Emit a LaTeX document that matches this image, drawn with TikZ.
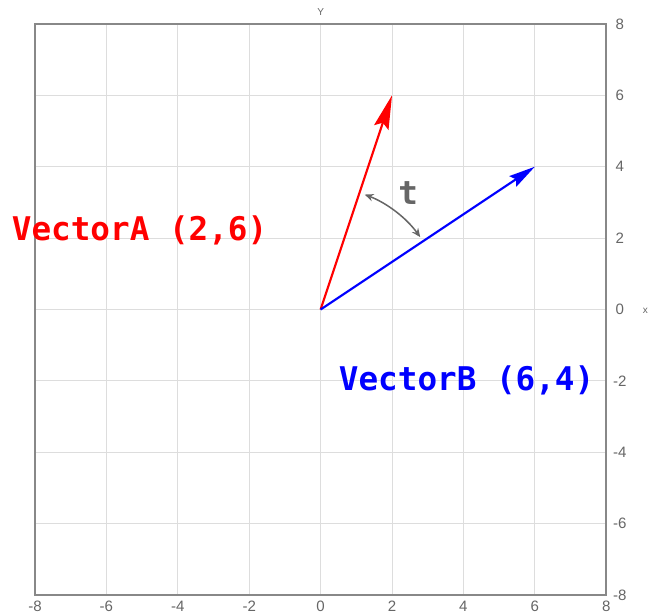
\documentclass[tikz,border=0pt]{standalone}
\usepackage{fontspec}
\setmainfont{Liberation Sans}
\newfontfamily\vecfont{DejaVu Sans Mono}
\usepackage{tikz}
\usetikzlibrary{arrows.meta}
\usetikzlibrary{positioning}

\definecolor{gridgray}{HTML}{DDDDDD}
\definecolor{framegray}{HTML}{888888}
\definecolor{ticktext}{HTML}{666666}
\definecolor{arcgray}{HTML}{666666}

\tikzset{
  gridline/.style={gridgray, line width=0.8pt},
  frameline/.style={framegray, line width=1.2pt},
  ticklabel/.style={ticktext, font=\fontsize{12}{14}\selectfont, inner sep=0pt},
  axisname/.style={ticktext, font=\fontsize{8}{10}\selectfont, inner sep=0pt},
  vecA/.style={red, line width=1.7pt, -{Stealth[length=27pt, width=12pt, inset=4pt]}},
  vecB/.style={blue, line width=1.7pt, -{Stealth[length=21pt, width=10pt, inset=3pt]}},
  angarc/.style={arcgray, line width=1.2pt, {Stealth[length=7pt, width=6pt]}-{Stealth[length=7pt, width=6pt]}},
  veclabel/.style={font=\vecfont\bfseries\fontsize{26}{30}\selectfont, inner sep=0pt}
}

\begin{document}
\begin{tikzpicture}
  \useasboundingbox (-8.98,-8.50) rectangle (9.17,8.67);

  % Grid and frame
  \draw[gridline] (-8,-8) grid[step=2] (8,8);
  \draw[frameline] (-8,-8) rectangle (8,8);

  % Tick labels on the bottom and on the right
  \foreach \x in {-8,-6,...,8}
    \node[ticklabel] (xt\x) at (\x,-8.30) {\x};
  \foreach \y in {-8,-6,...,8}
    \node[ticklabel] (yt\y) at (8.38,\y) {\y};

  \node[axisname] (yname) at (0,8.33) {Y};
  \node[axisname, anchor=west] (xname) at (9.02,-0.05) {x};

  % The two vectors
  \coordinate (O) at (0,0);
  \coordinate (A) at (2,6);
  \coordinate (B) at (6,4);

  \draw[vecA] (O) -- (A);
  \draw[vecB] (O) -- (B);

  % Angle between them
  \draw[angarc] ([shift={(69:3.45)}]O) arc[start angle=69, end angle=36, radius=3.45];
  \node[veclabel, text=arcgray] (t) at (2.45,3.27) {t};

  % Labels
  \node[veclabel, text=red] (labA) at (-5.07,2.22) {VectorA (2,6)};
  \node[veclabel, text=blue] (labB) at (4.09,-1.99) {VectorB (6,4)};
\end{tikzpicture}
\end{document}
